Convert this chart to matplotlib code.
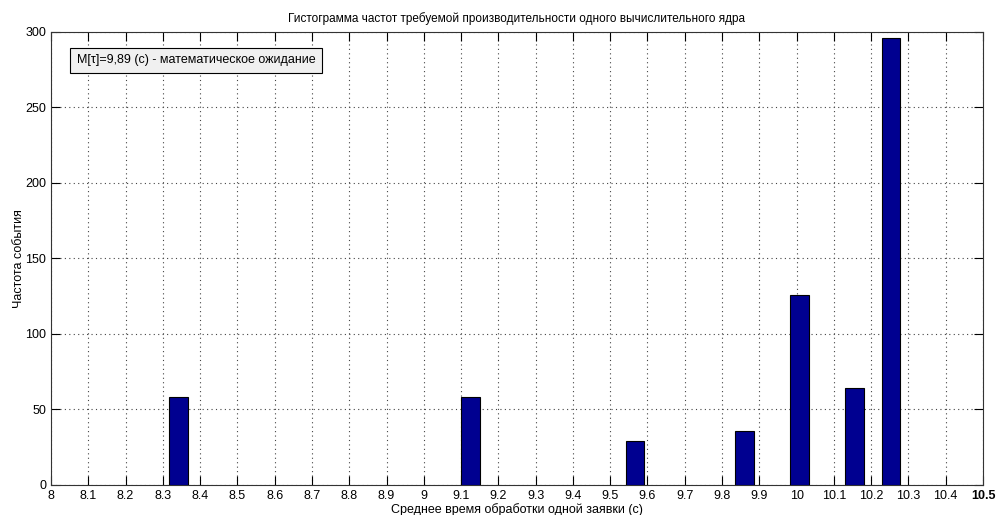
import numpy as np
import matplotlib.pyplot as plt

plt.rcParams['font.family'] = ['Liberation Sans Narrow', 'Liberation Sans', 'DejaVu Sans']

# центры столбцов гистограммы и частоты
centers = [8.342, 9.126, 9.567, 9.861, 10.008, 10.155, 10.253]
counts = [58, 58, 29, 36, 126, 64, 296]
xticks = np.round(np.arange(8.0, 10.51, 0.1), 1)
xlabels = ['8', '8.1', '8.2', '8.3', '8.4', '8.5', '8.6', '8.7', '8.8', '8.9', '9',
           '9.1', '9.2', '9.3', '9.4', '9.5', '9.6', '9.7', '9.8', '9.9', '10',
           '10.1', '10.2', '10.3', '10.4', '10.5']
yticks = [0, 50, 100, 150, 200, 250, 300]

fig = plt.figure(figsize=(10, 5.15), dpi=100)
ax = fig.add_axes([0.051, 0.0583, 0.932, 0.88])

ax.bar(centers, counts, width=0.05, color='#000090', edgecolor='black', linewidth=0.8, zorder=3)

ax.set_xlim(8, 10.5)
ax.set_ylim(0, 300)
ax.set_xticks(xticks)
ax.set_xticklabels(xlabels)
ax.get_xticklabels()[-1].set_fontweight('bold')
ax.set_yticks(yticks)
ax.tick_params(direction='in', length=6.5, top=True, right=True, labelsize=9, width=0.8)
ax.grid(True, linestyle=(0, (1, 3)), color='#444444', linewidth=0.8)
for s in ax.spines.values():
    s.set_linewidth(0.8)
    s.set_color('#333333')

ax.set_title('Гистограмма частот требуемой производительности одного вычислительного ядра', fontsize=8.5, pad=7)
ax.set_xlabel('Среднее время обработки одной заявки (с)', fontsize=9, labelpad=1)
ax.set_ylabel('Частота события', fontsize=9, labelpad=0)

ax.text(0.0275, 0.95, 'M[τ]=9,89 (с) - математическое ожидание', transform=ax.transAxes,
        fontsize=9, va='top', ha='left', zorder=5,
        bbox=dict(boxstyle='square,pad=0.55', facecolor='#f0f0f0', edgecolor='black', linewidth=0.8))

fig.savefig('out.png', dpi=100)
